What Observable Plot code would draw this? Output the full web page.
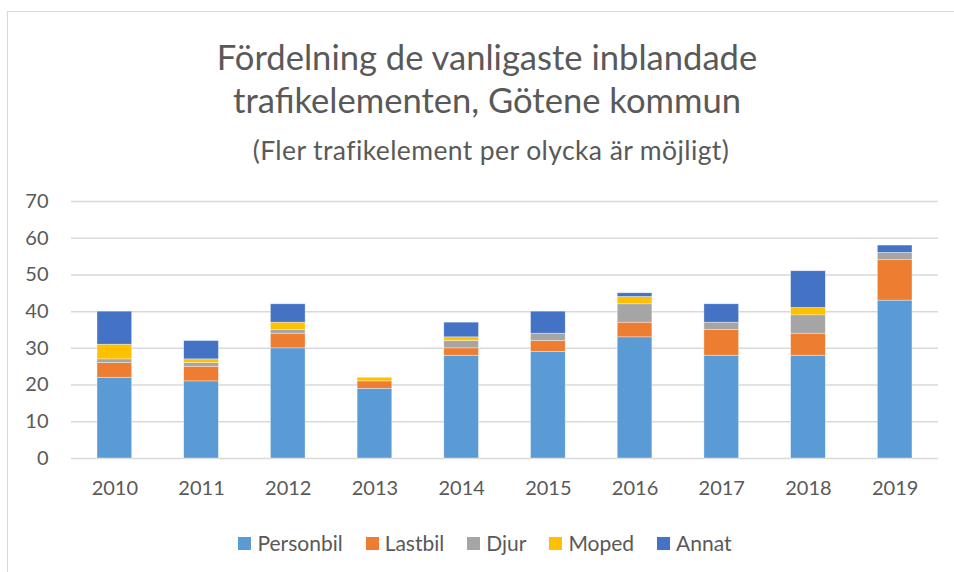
<!DOCTYPE html>
<html>
<head>
<meta charset="utf-8">
<script src="https://cdn.jsdelivr.net/npm/d3@7"></script>
<script src="https://cdn.jsdelivr.net/npm/@observablehq/plot@0.6"></script>
<style>
  html, body { margin: 0; padding: 0; background: #fff; }
  #wrap { position: relative; width: 954px; height: 572px; overflow: hidden; font-family: Lato, "Noto Sans", sans-serif; color: #595959; }
  #frame { position: absolute; left: 7px; top: 11px; width: 1000px; height: 700px; border: 1.5px solid #d9d9d9; box-sizing: border-box; }
  #title { position: absolute; left: 10px; width: 954px; top: 35px; text-align: center; font-size: 34.6px; line-height: 43px; }
  #subtitle { position: absolute; left: 14px; width: 954px; top: 134px; text-align: center; font-size: 26.5px; line-height: 32px; letter-spacing: 0.4px; }
  #chart { position: absolute; left: 0; top: 180px; }
  #legend { position: absolute; left: 8px; width: 954px; top: 530px; display: flex; justify-content: center; gap: 23px; font-size: 21px; line-height: 26px; }
  .item { display: flex; align-items: center; gap: 6px; }
  .sw { width: 13px; height: 13px; display: inline-block; }
</style>
</head>
<body>
<div id="wrap">
  <div id="frame"></div>
  <div id="title">Fördelning de vanligaste inblandade<br>trafikelementen, Götene kommun</div>
  <div id="subtitle">(Fler trafikelement per olycka är möjligt)</div>
  <div id="chart"></div>
  <div id="legend"></div>
</div>
<script>
const years = ["2010","2011","2012","2013","2014","2015","2016","2017","2018","2019"];
const seriesNames = ["Personbil","Lastbil","Djur","Moped","Annat"];
const personbil = [22, 21, 30, 19, 28, 29, 33, 28, 28, 43];
const lastbil   = [4, 4, 4, 2, 2, 3, 4, 7, 6, 11];
const djur      = [1, 1, 1, 0, 2, 2, 5, 2, 5, 2];
const moped     = [4, 1, 2, 1, 1, 0, 2, 0, 2, 0];
const annat     = [9, 5, 5, 0, 4, 6, 1, 5, 10, 2];
const colors = ["#5b9bd5","#ed7d31","#a5a5a5","#ffc000","#4472c4"];
const yTicks = [0,10,20,30,40,50,60,70];

const seriesValues = [personbil, lastbil, djur, moped, annat];
const data = [];
seriesNames.forEach((s, i) => years.forEach((y, j) => data.push({year: y, series: s, value: seriesValues[i][j]})));

const plot = Plot.plot({
  width: 954,
  height: 330,
  marginTop: 21,
  marginBottom: 52,
  marginLeft: 71,
  marginRight: 16,
  style: {fontFamily: "Lato, 'Noto Sans', sans-serif", fontSize: "20px", color: "#595959", background: "transparent"},
  x: {domain: years, paddingInner: 0.6, paddingOuter: 0.3, round: false, label: null},
  y: {domain: [0, 70], label: null},
  color: {domain: seriesNames, range: colors},
  marks: [
    Plot.gridY(yTicks.slice(1), {stroke: "#d9d9d9", strokeOpacity: 1, strokeWidth: 1.5}),
    Plot.ruleY([0], {stroke: "#d9d9d9", strokeWidth: 1.5}),
    Plot.barY(data, {x: "year", y: "value", fill: "series", order: seriesNames, stroke: "#ffffff", strokeWidth: 0.6, strokeOpacity: 0.6}),
    Plot.axisX({tickSize: 0, tickPadding: 22, fontSize: 20, letterSpacing: 0.5}),
    Plot.axisY(yTicks, {tickSize: 0, tickPadding: 23, fontSize: 20, letterSpacing: 0.5})
  ]
});
document.getElementById("chart").appendChild(plot);

const legend = document.getElementById("legend");
seriesNames.forEach((s, i) => {
  const it = document.createElement("div");
  it.className = "item";
  const sw = document.createElement("span");
  sw.className = "sw";
  sw.style.background = colors[i];
  const t = document.createElement("span");
  t.textContent = s;
  it.appendChild(sw); it.appendChild(t);
  legend.appendChild(it);
});
</script>
</body>
</html>
